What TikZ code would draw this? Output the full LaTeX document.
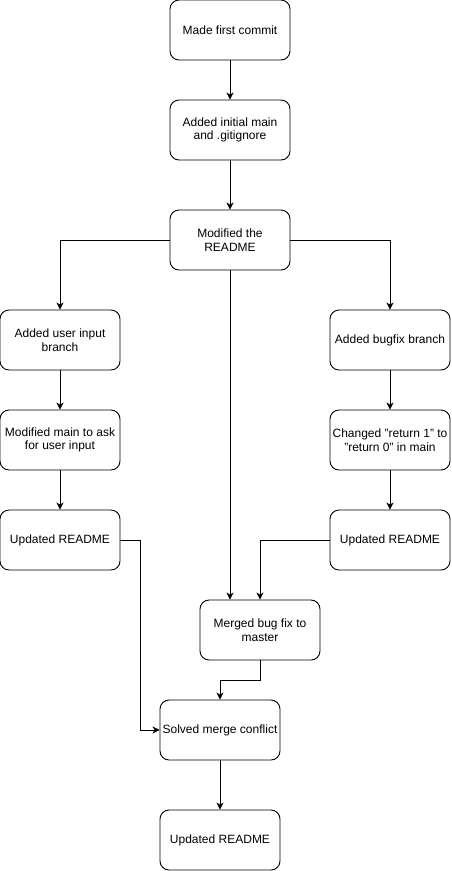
\documentclass[tikz,border=0pt]{standalone}
\usepackage{fontspec}
\setmainfont{Liberation Sans}
\usetikzlibrary{arrows.meta}
\begin{document}
\begin{tikzpicture}[x=1pt,y=-1pt,
  box/.style={draw, line width=0.9pt, rounded corners=9pt, minimum width=120pt, minimum height=60pt, align=center, font=\fontsize{12}{13.5}\selectfont, inner sep=1pt},
  arr/.style={draw, line width=0.9pt, -{Stealth[length=7pt,width=7pt,inset=2pt]}}]
\useasboundingbox (0,0) rectangle (451,871);
\node[box] (n1) at (230,30) {Made first commit};
\node[box] (n2) at (230,130) {Added initial main\\and .gitignore};
\node[box] (n3) at (230,240) {Modified the\\README};
\node[box] (l1) at (60,340) {Added user input\\branch};
\node[box] (l2) at (60,440) {Modified main to ask\\for user input};
\node[box] (l3) at (60,540) {Updated README};
\node[box] (r1) at (390,340) {Added bugfix branch};
\node[box] (r2) at (390,440) {Changed "return 1" to\\"return 0" in main};
\node[box] (r3) at (390,540) {Updated README};
\node[box] (m) at (260,630) {Merged bug fix to\\master};
\node[box] (s) at (220,730) {Solved merge conflict};
\node[box] (f) at (220,840) {Updated README};
\coordinate (lc) at (140,540);
\coordinate (mc) at (260,680);
\draw[arr] (n1) -- (n2);
\draw[arr] (n2) -- (n3);
\draw[arr] (n3.west) -| (l1.north);
\draw[arr] (n3.east) -| (r1.north);
\draw[arr] (n3.south) -- (n3.south |- m.north);
\draw[arr] (l1) -- (l2);
\draw[arr] (l2) -- (l3);
\draw[arr] (r1) -- (r2);
\draw[arr] (r2) -- (r3);
\draw[arr] (r3.west) -| (m.north);
\draw[arr] (l3.east) -- (lc) |- (s.west);
\draw[arr] (m.south) -- (mc) -| (s.north);
\draw[arr] (s) -- (f);
\end{tikzpicture}
\end{document}
